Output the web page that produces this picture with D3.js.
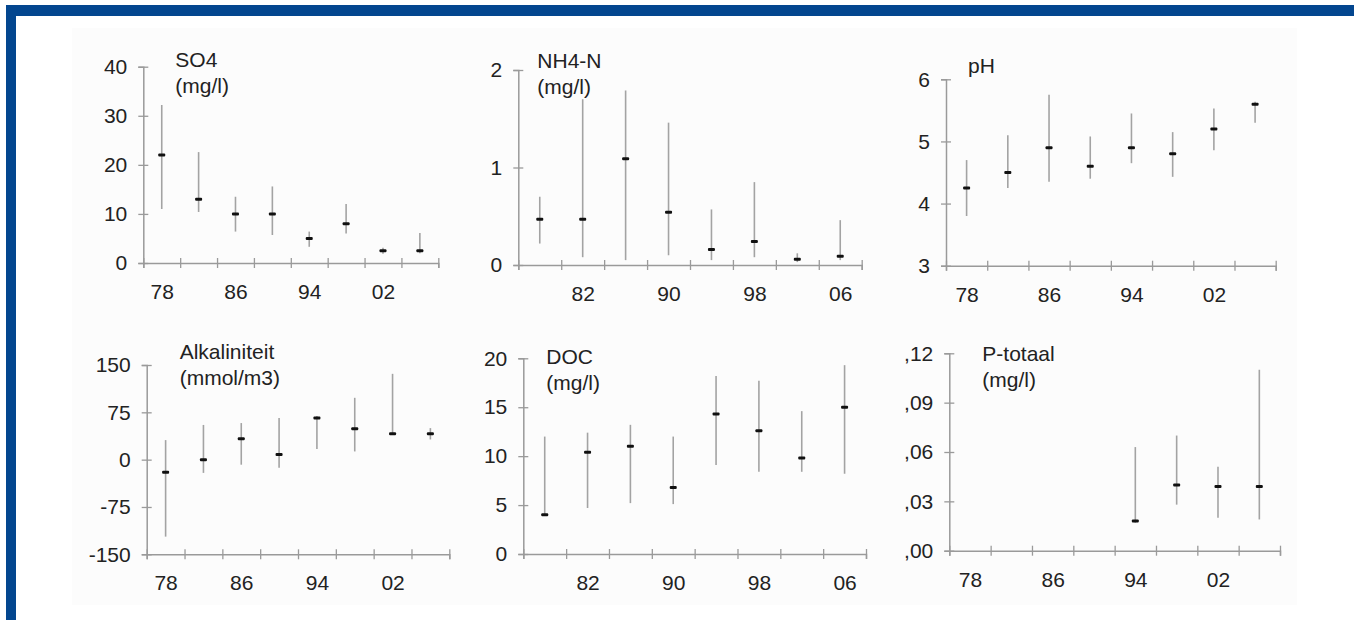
<!DOCTYPE html>
<html>
	<head>
		<title>Waterkwaliteit trends</title>
		<meta charset="utf-8">
		<script src="https://d3js.org/d3.v7.min.js"></script>
	</head>
	<body>
		<svg id="chart" width="1354" height="620"></svg>
	</body>

	<script>
		// sampling years (every four years)
		const years = [1978, 1982, 1986, 1990, 1994, 1998, 2002, 2006];

		// SO4 (mg/l)
		const so4Mean = [22, 13, 10, 10, 5, 8, 2.5, 2.5];
		const so4Low  = [11, 10.4, 6.4, 5.7, 3.3, 6, 1.9, 2.0];
		const so4High = [32.2, 22.6, 13.5, 15.6, 6.4, 12, 3.1, 6.1];

		// NH4-N (mg/l)
		const nh4Mean = [0.47, 0.47, 1.09, 0.54, 0.16, 0.24, 0.06, 0.09];
		const nh4Low  = [0.22, 0.08, 0.05, 0.1, 0.05, 0.08, 0.03, 0.05];
		const nh4High = [0.7, 1.7, 1.79, 1.46, 0.57, 0.85, 0.12, 0.46];

		// pH
		const phMean = [4.25, 4.5, 4.9, 4.6, 4.9, 4.8, 5.2, 5.6];
		const phLow  = [3.8, 4.25, 4.35, 4.4, 4.65, 4.43, 4.86, 5.3];
		const phHigh = [4.7, 5.1, 5.75, 5.08, 5.45, 5.15, 5.53, 5.64];

		// Alkaliniteit (mmol/m3)
		const alkMean = [-20, 0, 33, 8, 66, 49, 41, 41];
		const alkLow  = [-122, -21, -8, -13, 17, 13, 40, 32];
		const alkHigh = [31, 55, 58, 66, 69, 98, 136, 50];

		// DOC (mg/l)
		const docMean = [4, 10.4, 11, 6.8, 14.3, 12.6, 9.8, 15];
		const docLow  = [3.9, 4.7, 5.2, 5.1, 9.1, 8.4, 8.4, 8.2];
		const docHigh = [12, 12.4, 13.2, 12, 18.2, 17.7, 14.6, 19.3];

		// P-totaal (mg/l), only measured from 1994 on
		const ptMean = [null, null, null, null, 0.018, 0.04, 0.039, 0.039];
		const ptLow  = [null, null, null, null, 0.017, 0.028, 0.02, 0.019];
		const ptHigh = [null, null, null, null, 0.063, 0.07, 0.051, 0.11];

		// axis ticks and labels
		const xTicks = d3.range(1976, 2009, 4);
		const xLabelsA = [1978, 1986, 1994, 2002];
		const xLabelsB = [1982, 1990, 1998, 2006];

		const so4Ticks = [0, 10, 20, 30, 40];
		const nh4Ticks = [0, 0.5, 1, 1.5, 2];
		const phTicks  = [3, 4, 5, 6];
		const alkTicks = [-150, -75, 0, 75, 150];
		const docTicks = [0, 5, 10, 15, 20];
		const ptTicks  = [0, 0.03, 0.06, 0.09, 0.12];

		const panels = [
			{title: ["SO4", "(mg/l)"], mean: so4Mean, low: so4Low, high: so4High,
				yTicks: so4Ticks, labels: xLabelsA, fmt: d => d,
				x0: 143.3, x1: 438.3, yTop: 66.7, yBot: 263, tx: 32, ty: 67},
			{title: ["NH4-N", "(mg/l)"], mean: nh4Mean, low: nh4Low, high: nh4High,
				yTicks: nh4Ticks, labels: xLabelsB, fmt: d => Number.isInteger(d) ? d : "",
				x0: 518.3, x1: 861.7, yTop: 70, yBot: 265, tx: 19, ty: 68},
			{title: ["pH"], mean: phMean, low: phLow, high: phHigh,
				yTicks: phTicks, labels: xLabelsA, fmt: d => d,
				x0: 946, x1: 1275.7, yTop: 79.3, yBot: 265.7, tx: 22, ty: 73},
			{title: ["Alkaliniteit", "(mmol/m3)"], mean: alkMean, low: alkLow, high: alkHigh,
				yTicks: alkTicks, labels: xLabelsA, fmt: d => d,
				x0: 146.7, x1: 449.3, yTop: 365, yBot: 554.3, tx: 33, ty: 359},
			{title: ["DOC", "(mg/l)"], mean: docMean, low: docLow, high: docHigh,
				yTicks: docTicks, labels: xLabelsB, fmt: d => d,
				x0: 523.3, x1: 866, yTop: 358.3, yBot: 554, tx: 23, ty: 364},
			{title: ["P-totaal", "(mg/l)"], mean: ptMean, low: ptLow, high: ptHigh,
				yTicks: ptTicks, labels: xLabelsA, fmt: d => d3.format(".2f")(d).replace("0.", ","),
				x0: 949.3, x1: 1280, yTop: 353.3, yBot: 550.7, tx: 33, ty: 361}
		];

		const svg = d3.select("#chart");

		// page frame
		svg.append("rect").attr("x", 0).attr("y", 0).attr("width", 1354).attr("height", 620).attr("fill", "#fff");
		svg.append("rect").attr("x", 72).attr("y", 28).attr("width", 1225).attr("height", 577).attr("fill", "#fcfcfc");
		svg.append("rect").attr("x", 6).attr("y", 5).attr("width", 1348).attr("height", 11).attr("fill", "#03468f");
		svg.append("rect").attr("x", 6).attr("y", 5).attr("width", 10).attr("height", 615).attr("fill", "#03468f");

		for (const p of panels)
		{
			const yDomain = d3.extent(p.yTicks);
			const x = d3.scaleLinear().domain([1976, 2008]).range([p.x0, p.x1]);
			const y = d3.scaleLinear().domain(yDomain).range([p.yBot, p.yTop]);

			const g = svg.append("g");

			// y axis, ticks cross the line
			const yAxis = g.append("g")
				.attr("class", "axis")
				.attr("transform", `translate(${p.x0},0)`)
				.call(d3.axisLeft(y).tickValues(p.yTicks).tickFormat(p.fmt).tickSize(5).tickPadding(11));
			yAxis.selectAll(".tick line")
				.attr("x2", d => (p.fmt(d) === "" ? -5 : 5))
				.attr("x1", -5);

			// x axis, unlabelled ticks every four years
			const xAxis = g.append("g")
				.attr("class", "axis")
				.attr("transform", `translate(0,${p.yBot})`)
				.call(d3.axisBottom(x).tickValues(xTicks).tickFormat("").tickSize(5));
			xAxis.selectAll(".tick line").attr("y1", -5);

			// year labels sit between the ticks
			g.append("g")
				.attr("class", "axis labels")
				.attr("transform", `translate(0,${p.yBot})`)
				.call(d3.axisBottom(x).tickValues(p.labels).tickFormat(d => String(d % 100).padStart(2, "0")).tickSize(0).tickPadding(21));

			// title
			const title = g.append("text")
				.attr("class", "title")
				.attr("x", p.x0 + p.tx)
				.attr("y", p.ty);
			title.selectAll("tspan")
				.data(p.title)
				.enter().append("tspan")
					.attr("x", p.x0 + p.tx)
					.attr("dy", (d, i) => i === 0 ? 0 : 26)
					.text(d => d);

			const pts = years.map((yr, i) => ({yr, mean: p.mean[i], low: p.low[i], high: p.high[i]}))
				.filter(d => d.mean !== null);

			// range bars
			g.selectAll(".range")
				.data(pts)
				.enter().append("line")
					.attr("class", "range")
					.attr("x1", d => x(d.yr))
					.attr("x2", d => x(d.yr))
					.attr("y1", d => y(d.low))
					.attr("y2", d => y(d.high));

			// mean markers
			g.selectAll(".mean")
				.data(pts)
				.enter().append("rect")
					.attr("class", "mean")
					.attr("x", d => x(d.yr) - 3.5)
					.attr("y", d => y(d.mean) - 1.5)
					.attr("width", 7)
					.attr("height", 3)
					.attr("rx", 1);
		}
	</script>

	<style>
		html, body
		{
			margin: 0;
			overflow: hidden;
			background: #fff;
		}

		text
		{
			font-family: "Liberation Sans", Arial, sans-serif;
			fill: #222;
		}

		.axis path
		{
			stroke: #9a9a9a;
			stroke-width: 1.5;
		}

		.axis line
		{
			stroke: #9a9a9a;
			stroke-width: 1.3;
		}

		.labels path
		{
			stroke: none;
		}

		.axis text
		{
			font-size: 21px;
			fill: #222;
		}

		.title
		{
			font-size: 21px;
		}

		.range
		{
			stroke: #a3a3a3;
			stroke-width: 1.6;
		}

		.mean
		{
			fill: #111;
		}
	</style>
</html>
